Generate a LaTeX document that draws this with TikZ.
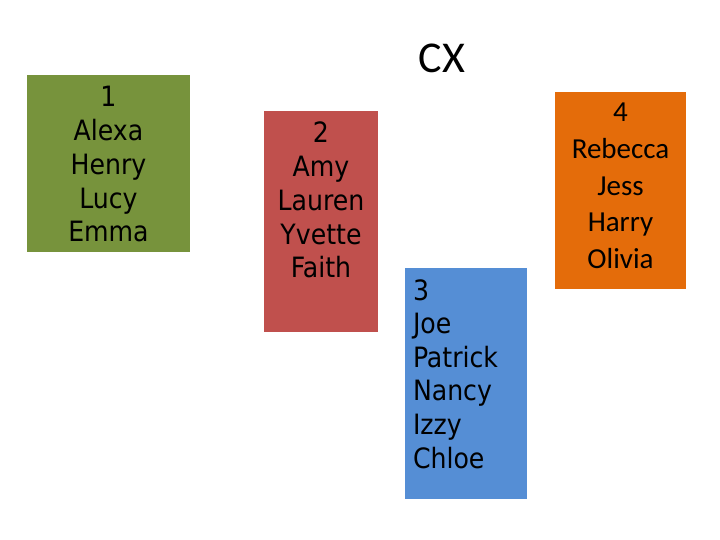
\documentclass[tikz,border=0pt]{standalone}
\usepackage{fontspec}
\newfontfamily\tahomalike{DejaVu Sans Condensed}
\newfontfamily\calibrilike{Carlito}
\definecolor{boxgreen}{HTML}{77933C}
\definecolor{boxred}{HTML}{C0504D}
\definecolor{boxblue}{HTML}{558ED5}
\definecolor{boxorange}{HTML}{E46C0A}
\newcommand{\clines}[2]{\vtop{\baselineskip=#1\lineskiplimit=-100pt\halign{\hfil##\hfil\cr#2\crcr}}}
\newcommand{\llines}[2]{\vtop{\baselineskip=#1\lineskiplimit=-100pt\halign{##\hfil\cr#2\crcr}}}
\tikzset{
  groupbox/.style={draw=none, inner sep=0pt, outer sep=0pt},
  grouptext/.style={anchor=base, inner sep=0pt, outer sep=0pt, text=black},
}
\begin{document}
\begin{tikzpicture}[x=1pt, y=-1pt]
\useasboundingbox (0,0) rectangle (720,540);
\fill[white] (0,0) rectangle (720,540);
% boxes
\node[groupbox, fill=boxgreen, minimum width=163pt, minimum height=177pt] (box1) at (108.5,163.5) {};
\node[groupbox, fill=boxred, minimum width=114pt, minimum height=221pt] (box2) at (321,221.5) {};
\node[groupbox, fill=boxblue, minimum width=122pt, minimum height=231pt] (box3) at (466,383.5) {};
\node[groupbox, fill=boxorange, minimum width=131pt, minimum height=197pt] (box4) at (620.5,190.5) {};
% texts
\node[grouptext] (t1) at (108.5,107) {\tahomalike\fontsize{28}{33.7}\selectfont\clines{33.7pt}{1\cr Alexa\cr Henry\cr Lucy\cr Emma}};
\node[grouptext] (t2) at (321,143) {\tahomalike\fontsize{28}{33.7}\selectfont\clines{33.7pt}{2\cr Amy\cr Lauren\cr Yvette\cr Faith}};
\node[grouptext, anchor=base west] (t3) at (413,300) {\tahomalike\fontsize{28}{33.6}\selectfont\llines{33.6pt}{3\cr Joe\cr Patrick\cr Nancy\cr Izzy\cr Chloe}};
\node[grouptext] (t4) at (620.5,121.5) {\calibrilike\fontsize{29}{36.8}\selectfont\clines{36.8pt}{4\cr Rebecca\cr Jess\cr Harry\cr Olivia}};
\node[grouptext] (title) at (442,72.5) {\calibrilike\fontsize{44}{50}\selectfont CX};
\end{tikzpicture}
\end{document}
